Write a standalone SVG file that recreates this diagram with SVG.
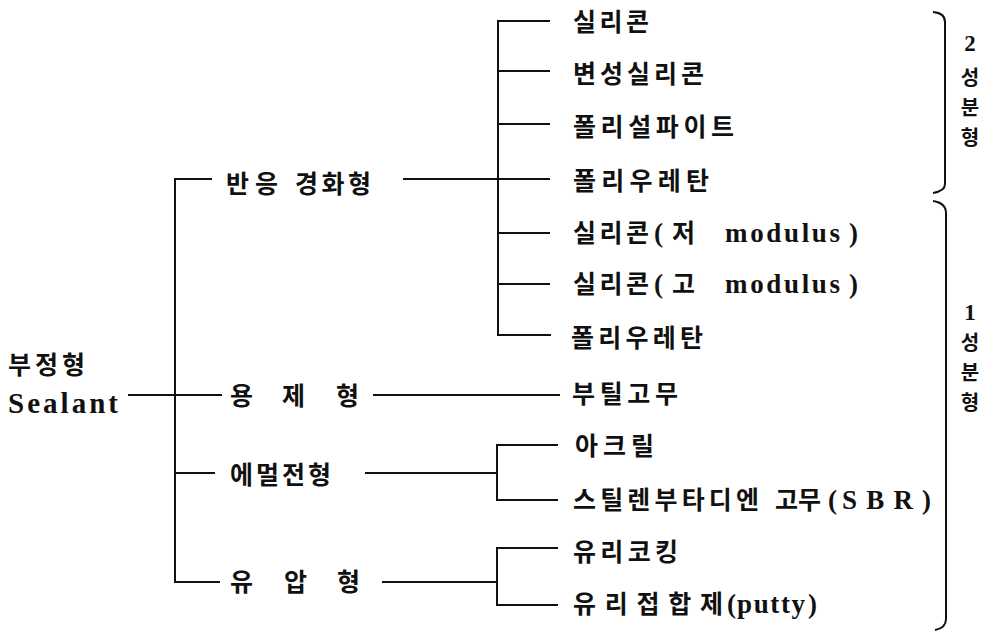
<svg xmlns="http://www.w3.org/2000/svg" width="993" height="631" viewBox="0 0 993 631">
<style>
.t { font-family: "Liberation Serif", "Noto Sans CJK KR", serif; font-size: 25px; font-weight: bold; fill: #111; }
.k { font-family: "Noto Sans CJK KR", "Liberation Serif", sans-serif; font-weight: bold; }
.l { font-family: "Liberation Serif", serif; font-weight: bold; font-size: 27px; }
.s { text-anchor: middle; font-size: 20px; }
.s tspan.d { font-size: 23px; }
.ln { stroke: #111; stroke-width: 2; fill: none; }
</style>
<rect width="993" height="631" fill="#fff"/>
<g id="connectors" class="ln">
  <path d="M212,179 H175 V582 H220"/>
  <path d="M128,395 H222"/>
  <path d="M175,473 H215"/>
  <path d="M403,179 H498"/>
  <path d="M373,395 H560"/>
  <path d="M365,473 H497"/>
  <path d="M382,582 H497"/>
  <path d="M550,21 H498 V335 H551"/>
  <path d="M498,71 H550 M498,124 H550 M498,179 H550 M498,233 H550 M498,284 H550"/>
  <path d="M558,445 H497 V500 H558"/>
  <path d="M558,548 H497 V605 H558"/>
  <path d="M933,12 Q945,13 945,22 V184 Q945,191 933,193"/>
  <path d="M933,201 Q946,203 946,213 V619 Q946,628 935,630"/>
</g>
<g id="root" class="t">
  <text class="k" x="8" y="374" textLength="77" lengthAdjust="spacing">부정형</text>
  <text class="l" x="8" y="413" style="font-size:29px" textLength="110" lengthAdjust="spacing">Sealant</text>
</g>
<g id="n-bangeung" class="t k">
  <text y="193"><tspan x="226" textLength="52" lengthAdjust="spacing">반응</tspan><tspan x="295" textLength="76" lengthAdjust="spacing">경화형</tspan></text>
</g>
<g id="n-yongje" class="t k">
  <text y="405"><tspan x="230">용</tspan><tspan x="282">제</tspan><tspan x="336">형</tspan></text>
</g>
<g id="n-emulsion" class="t k">
  <text x="230" y="484" textLength="101" lengthAdjust="spacing">에멀전형</text>
</g>
<g id="n-yuap" class="t k">
  <text y="591"><tspan x="230">유</tspan><tspan x="284">압</tspan><tspan x="337">형</tspan></text>
</g>
<g id="c-silicone" class="t k"><text x="573" y="31" textLength="76" lengthAdjust="spacing">실리콘</text></g>
<g id="c-modsilicone" class="t k"><text x="573" y="83" textLength="131" lengthAdjust="spacing">변성실리콘</text></g>
<g id="c-polysulfide" class="t k"><text x="573" y="136" textLength="161" lengthAdjust="spacing">폴리설파이트</text></g>
<g id="c-pu1" class="t k"><text x="573" y="190" textLength="136" lengthAdjust="spacing">폴리우레탄</text></g>
<g id="c-silicone-low" class="t">
  <text y="242"><tspan class="k" x="573" textLength="76" lengthAdjust="spacing">실리콘</tspan><tspan class="l" x="654">(</tspan><tspan class="k" x="672">저</tspan><tspan class="l" x="725" textLength="115" lengthAdjust="spacing">modulus</tspan><tspan class="l" x="849">)</tspan></text>
</g>
<g id="c-silicone-high" class="t">
  <text y="293"><tspan class="k" x="573" textLength="76" lengthAdjust="spacing">실리콘</tspan><tspan class="l" x="654">(</tspan><tspan class="k" x="672">고</tspan><tspan class="l" x="725" textLength="115" lengthAdjust="spacing">modulus</tspan><tspan class="l" x="849">)</tspan></text>
</g>
<g id="c-pu2" class="t k"><text x="571" y="347" textLength="132" lengthAdjust="spacing">폴리우레탄</text></g>
<g id="c-butyl" class="t k"><text x="572" y="403" textLength="106" lengthAdjust="spacing">부틸고무</text></g>
<g id="c-acryl" class="t k"><text x="575" y="455" textLength="79" lengthAdjust="spacing">아크릴</text></g>
<g id="c-sbr" class="t">
  <text y="509"><tspan class="k" x="573" textLength="186" lengthAdjust="spacing">스틸렌부타디엔</tspan><tspan class="k" x="775">고무</tspan><tspan class="l" x="828">(</tspan><tspan class="l" x="842" textLength="71" lengthAdjust="spacing">SBR</tspan><tspan class="l" x="922">)</tspan></text>
</g>
<g id="c-caulking" class="t k"><text x="573" y="561" textLength="105" lengthAdjust="spacing">유리코킹</text></g>
<g id="c-putty" class="t">
  <text y="613"><tspan class="k" x="573" textLength="150" lengthAdjust="spacing">유리접합제</tspan><tspan class="l" x="727">(</tspan><tspan class="l" x="737" textLength="68" lengthAdjust="spacing">putty</tspan><tspan class="l" x="808">)</tspan></text>
</g>
<g id="label-2comp" class="t">
  <text class="s"><tspan class="l d" x="970" y="51">2</tspan><tspan class="k" x="970" y="85">성</tspan><tspan class="k" x="970" y="115">분</tspan><tspan class="k" x="970" y="145">형</tspan></text>
</g>
<g id="label-1comp" class="t">
  <text class="s"><tspan class="l d" x="970" y="320">1</tspan><tspan class="k" x="970" y="350">성</tspan><tspan class="k" x="970" y="380">분</tspan><tspan class="k" x="970" y="410">형</tspan></text>
</g>
</svg>
